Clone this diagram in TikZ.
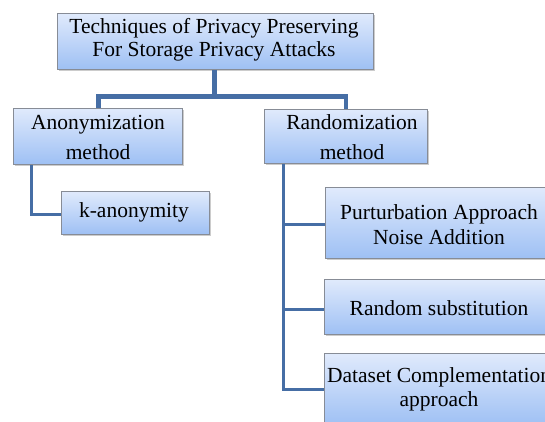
\documentclass[tikz,border=0pt]{standalone}
\usepackage{fontspec}
\newfontfamily\tnr{LiberationSerif}[Extension=.ttf, UprightFont=*-Regular]
\usetikzlibrary{shadows}
\definecolor{boxtop}{RGB}{224,234,252}
\definecolor{boxbot}{RGB}{158,192,244}
\definecolor{boxborder}{RGB}{135,140,150}
\definecolor{linkc}{RGB}{70,110,165}
\tikzset{
  box/.style={draw=boxborder, line width=0.9pt, top color=boxtop, bottom color=boxbot,
    drop shadow={shadow xshift=1.4pt, shadow yshift=-1.8pt, opacity=0.4},
    inner sep=0pt, anchor=north west},
  lbl/.style={align=center, inner sep=0pt},
  link/.style={draw=linkc, line width=3pt},
  biglink/.style={draw=linkc, line width=4.6pt},
}
\newcommand{\fs}[1]{\tnr\fontsize{21.5}{#1}\selectfont}
\begin{document}
\begin{tikzpicture}[x=1pt,y=-1pt]
\useasboundingbox (0,0) rectangle (545,421);
\clip (0,0) rectangle (545,421);
% boxes
\node[box, minimum width=316pt, minimum height=56pt] (top) at (57,13) {};
\node[box, minimum width=169pt, minimum height=56pt] (anon) at (13,108) {};
\node[box, minimum width=163pt, minimum height=54pt] (rand) at (264,109) {};
\node[box, minimum width=148pt, minimum height=43pt] (kan) at (61,191) {};
\node[box, minimum width=228pt, minimum height=71pt] (pert) at (325,187) {};
\node[box, minimum width=230pt, minimum height=55pt] (rsub) at (324,279) {};
\node[box, minimum width=230pt, minimum height=72pt] (dset) at (324,353) {};
% texts
\node[lbl, font=\fs{23.5}] (ttop) at (214,39.5) {Techniques of Privacy Preserving\\For Storage Privacy Attacks};
\node[lbl, font=\fs{30}] (tanon) at (98,137) {Anonymization\\method};
\node[lbl, font=\fs{30}] (trand) at (352,137.5) {Randomization\\method};
\node[lbl, font=\fs{25}] (tkan) at (134,212) {k-anonymity};
\node[lbl, font=\fs{25}] (tpert) at (439,224.5) {Purturbation Approach\\Noise Addition};
\node[lbl, font=\fs{25}] (trsub) at (439,308) {Random substitution};
\node[lbl, font=\fs{24}] (tdset) at (439,389) {Dataset Complementation\\approach};
% top connectors
\coordinate (j) at (214.5,96.5);
\coordinate (jl) at (98.5,96.5);
\coordinate (jr) at (346,96.5);
\draw[biglink] (top.south -| j) -- (j);
\draw[biglink, line cap=rect] (jl) -- (jr);
\draw[biglink] (jl) -- (jl |- anon.north);
\draw[biglink] (jr) -- (jr |- rand.north);
% left
\draw[link] (anon.south -| 31,0) |- (kan.west |- 0,214);
% right
\coordinate (rb) at (283,389);
\draw[link] (rand.south -| rb) -- (rb) -- (dset.west |- rb);
\draw[link] (283,224) -- (pert.west |- 0,224);
\draw[link] (283,309) -- (rsub.west |- 0,309);
\end{tikzpicture}
\end{document}
